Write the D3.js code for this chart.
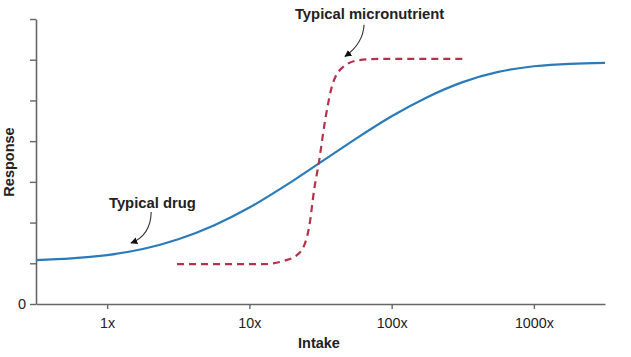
<!DOCTYPE html>
<html>
<head>
<meta charset="utf-8">
<script src="https://cdn.jsdelivr.net/npm/d3@7/dist/d3.min.js"></script>
<style>
  html, body { margin: 0; padding: 0; background: #fff; }
  svg { display: block; font-family: "Liberation Sans", Arial, Helvetica, sans-serif; }
</style>
</head>
<body>
<svg id="chart" width="631" height="357"></svg>
<script>
// ---- Data ----
const xTickValues = [1, 10, 100, 1000];
const xTickLabels = ["1x", "10x", "100x", "1000x"];
const yTickValues = [0, 1, 2, 3, 4, 5, 6, 7];
const yTickLabels = ["0", "", "", "", "", "", "", ""];

// Typical drug (solid blue) – intake multiple vs response
const drugX = [0.316, 0.56, 1.0, 1.78, 3.16, 5.62, 10, 17.8, 31.6, 56.2, 100, 178, 316, 562, 1000, 1780, 3162];
const drugY = [1.08, 1.12, 1.20, 1.35, 1.59, 1.93, 2.37, 2.90, 3.48, 4.06, 4.61, 5.08, 5.45, 5.70, 5.84, 5.90, 5.92];

// Typical micronutrient (dashed red)
const nutrientX = [3.1, 12.7, 17.5, 22.4, 26.3, 28.5, 30.9, 33.5, 37.5, 44.8, 59, 81.5, 323];
const nutrientY = [0.98, 0.98, 1.06, 1.25, 1.89, 2.80, 3.51, 4.35, 5.26, 5.80, 5.99, 6.02, 6.02];

// Annotations (label position & arrow in data units)
const annotations = [
  { text: "Typical drug", lx: 2.08, ly: 2.36, sx: 2.04, sy: 2.26, cx: 2.02, cy: 1.68, ex: 1.47, ey: 1.50 },
  { text: "Typical micronutrient", lx: 70, ly: 7.0, sx: 64, sy: 6.86, cx: 63, cy: 6.4, ex: 47, ey: 6.08 }
];

// ---- Layout ----
const W = 631, H = 357;
const margin = { left: 36, right: 26, top: 19, bottom: 53 };
const svg = d3.select("#chart");

const x = d3.scaleLog().domain([0.316, 3162]).range([margin.left, W - margin.right]);
const y = d3.scaleLinear().domain([0, 7]).range([H - margin.bottom, margin.top]);

const axisColor = "#666";
const textColor = "#222";

// X axis
const gx = svg.append("g")
  .attr("transform", `translate(0,${y(0)})`)
  .call(d3.axisBottom(x).tickValues(xTickValues)
    .tickFormat((d, i) => xTickLabels[i]).tickSize(5).tickSizeOuter(0));
gx.select(".domain").attr("stroke", axisColor).attr("stroke-width", 1.6);
gx.selectAll(".tick line").attr("stroke", axisColor).attr("stroke-width", 1.4);
gx.selectAll(".tick text").attr("fill", textColor).attr("font-size", 14.3)
  .attr("y", 14).attr("dy", "0.71em");

// Y axis
const gy = svg.append("g")
  .attr("transform", `translate(${x(0.316)},0)`)
  .call(d3.axisLeft(y).tickValues(yTickValues)
    .tickFormat((d, i) => yTickLabels[i]).tickSize(6).tickSizeOuter(0));
gy.select(".domain").attr("stroke", axisColor).attr("stroke-width", 1.6);
gy.selectAll(".tick line").attr("stroke", axisColor).attr("stroke-width", 1.4);
gy.selectAll(".tick text").attr("fill", textColor).attr("font-size", 14.5).attr("x", -10);

// Axis titles
svg.append("text")
  .attr("x", 319)
  .attr("y", 348)
  .attr("text-anchor", "middle")
  .attr("font-weight", "bold").attr("font-size", 14.5).attr("fill", textColor)
  .text("Intake");

svg.append("text")
  .attr("transform", `translate(14,${162}) rotate(-90)`)
  .attr("text-anchor", "middle")
  .attr("font-weight", "bold").attr("font-size", 14.5).attr("fill", textColor)
  .text("Response");

// Lines
const px = d => x(d[0]), py = d => y(d[1]);

svg.append("path")
  .datum(drugX.map((v, i) => [v, drugY[i]]))
  .attr("d", d3.line().x(px).y(py).curve(d3.curveNatural))
  .attr("fill", "none").attr("stroke", "#2b7bbb").attr("stroke-width", 2.2);

svg.append("path")
  .datum(nutrientX.map((v, i) => [v, nutrientY[i]]))
  .attr("d", d3.line().x(px).y(py).curve(d3.curveMonotoneX))
  .attr("fill", "none").attr("stroke", "#b5324a").attr("stroke-width", 2.2)
  .attr("stroke-dasharray", "7,5");

// Arrowhead marker
svg.append("defs").append("marker")
  .attr("id", "arrow").attr("viewBox", "0 0 10 10")
  .attr("refX", 9).attr("refY", 5)
  .attr("markerWidth", 7).attr("markerHeight", 7)
  .attr("markerUnits", "userSpaceOnUse")
  .attr("orient", "auto")
  .append("path").attr("d", "M0,0 L10,5 L0,10 Z").attr("fill", "#111");

annotations.forEach(a => {
  svg.append("text")
    .attr("x", x(a.lx)).attr("y", y(a.ly))
    .attr("text-anchor", "middle")
    .attr("font-weight", "bold").attr("font-size", 14.8).attr("fill", textColor)
    .text(a.text);
  const p = d3.path();
  p.moveTo(x(a.sx), y(a.sy));
  p.quadraticCurveTo(x(a.cx), y(a.cy), x(a.ex), y(a.ey));
  svg.append("path").attr("d", p.toString())
    .attr("fill", "none").attr("stroke", "#333").attr("stroke-width", 1.1)
    .attr("marker-end", "url(#arrow)");
});
</script>
</body>
</html>
